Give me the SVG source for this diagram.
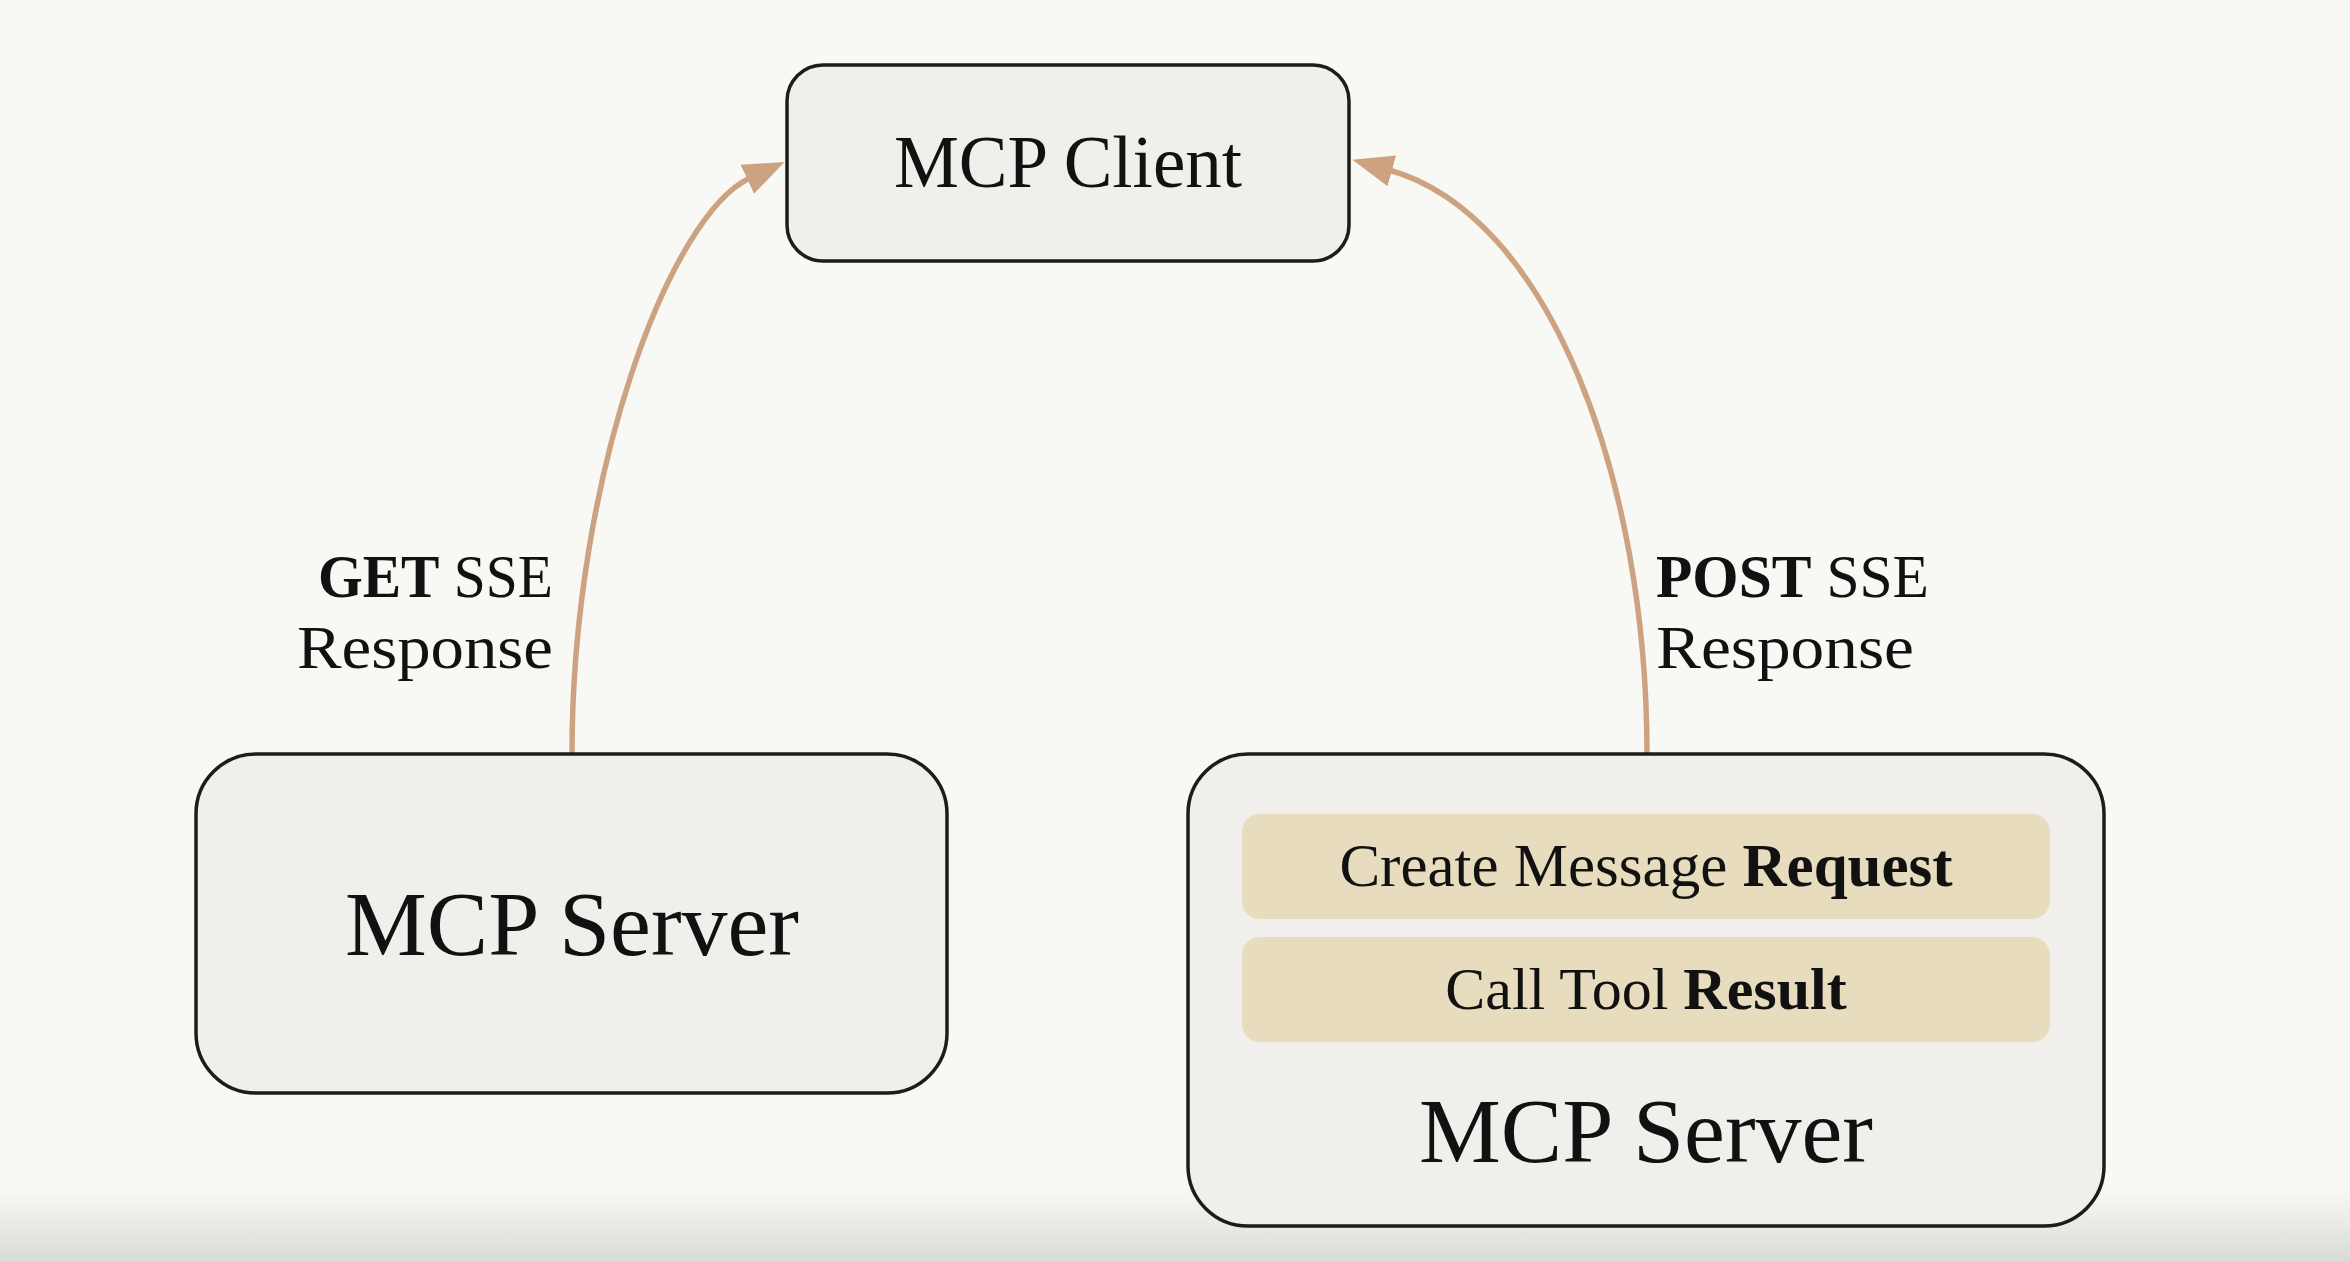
<svg xmlns="http://www.w3.org/2000/svg" width="2350" height="1262" viewBox="0 0 2350 1262">
<style>
.box{fill:#f0efeb;stroke:#1c1c1c;stroke-width:3.5}
.bar{fill:#e8dcbf}
.t{font-family:"Liberation Serif","Times New Roman",serif;fill:#111}
.b{font-weight:bold}
.edge{fill:none;stroke:#cda281;stroke-width:5.5}
</style>
<defs>
<marker id="ah" markerUnits="userSpaceOnUse" markerWidth="42" markerHeight="34" refX="3" refY="17" orient="auto" viewBox="0 0 42 34">
<path d="M0,1 L41,17 L0,33 Z" fill="#cda281"/>
</marker>
<linearGradient id="shade" x1="0" y1="0" x2="0" y2="1">
<stop offset="0" stop-color="#f8f9f5"/>
<stop offset="1" stop-color="#d8dad5"/>
</linearGradient>
</defs>
<rect width="2350" height="1262" fill="#f8f9f5"/>
<rect x="0" y="1190" width="2350" height="72" fill="url(#shade)"/>
<g id="connectors">
<path class="edge" d="M572,754 C572,475 670,215 750,178" marker-end="url(#ah)"/>
<path class="edge" d="M1647,754 C1647,480 1550,215 1389,170" marker-end="url(#ah)"/>
<text class="t" x="553" y="597" font-size="62" text-anchor="end" textLength="235" lengthAdjust="spacingAndGlyphs"><tspan class="b">GET</tspan> SSE</text>
<text class="t" x="553" y="668" font-size="62" text-anchor="end" textLength="256" lengthAdjust="spacingAndGlyphs">Response</text>
<text class="t" x="1656" y="597" font-size="62" textLength="273" lengthAdjust="spacingAndGlyphs"><tspan class="b">POST</tspan> SSE</text>
<text class="t" x="1656" y="668" font-size="62" textLength="258" lengthAdjust="spacingAndGlyphs">Response</text>
</g>
<g id="client">
<rect class="box" x="787" y="65" width="562" height="196" rx="36"/>
<text class="t" x="1068" y="187" font-size="73" text-anchor="middle">MCP Client</text>
</g>
<g id="server-left">
<rect class="box" x="196" y="754" width="751" height="339" rx="60"/>
<text class="t" x="572" y="955" font-size="92" text-anchor="middle">MCP Server</text>
</g>
<g id="server-right">
<rect class="box" x="1188" y="754" width="916" height="472" rx="60"/>
<rect class="bar" x="1242" y="814" width="808" height="105" rx="18"/>
<text class="t" x="1646" y="886" font-size="61" text-anchor="middle">Create Message <tspan class="b">Request</tspan></text>
<rect class="bar" x="1242" y="937" width="808" height="105" rx="18"/>
<text class="t" x="1646" y="1009" font-size="60" text-anchor="middle">Call Tool <tspan class="b">Result</tspan></text>
<text class="t" x="1646" y="1162" font-size="92" text-anchor="middle">MCP Server</text>
</g>
</svg>
